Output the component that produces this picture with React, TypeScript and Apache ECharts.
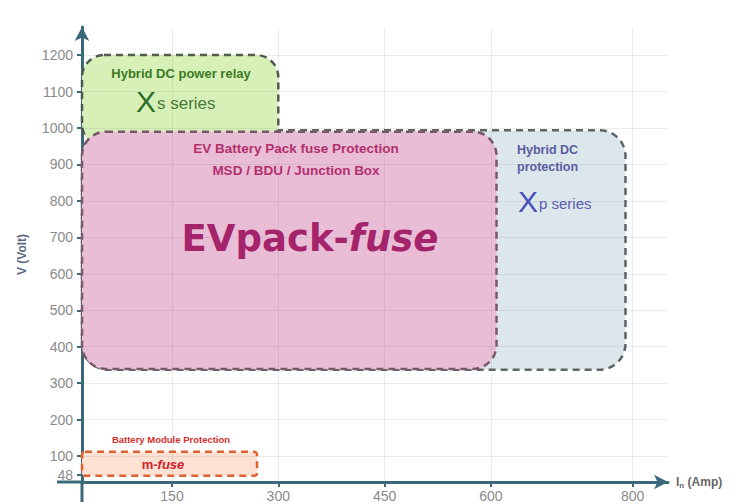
import React, { useEffect, useRef } from "react";
import * as echarts from "echarts";

// ---- data ----
const xTicks = [150, 300, 450, 600, 800];
const yTicks = [48, 100, 200, 300, 400, 500, 600, 700, 800, 900, 1000, 1100, 1200];
const gridX = [150, 300, 450, 600, 800];
const gridY = [100, 200, 300, 400, 500, 600, 700, 800, 900, 1000, 1100, 1200];

// application zones (Amp range, Volt range)
const zoneNames = ["Hybrid DC protection", "Hybrid DC power relay", "EV Battery Pack fuse Protection", "Battery Module Protection"];
const zoneAmpFrom = [23, 23, 23, 23];
const zoneAmpTo = [790, 300, 608, 270];
const zoneVoltFrom = [337, 950, 339, 46];
const zoneVoltTo = [994, 1200, 990, 112];

const X_MIN = 23;
const X_MAX = 850;
const Y_MIN = 29;
const Y_MAX = 1277;

// styles (kept apart from the data)
const zoneStyles = [
  { fill: "#dce7eb", stroke: "#5e6468", r: 26 },
  { fill: "#d6f0b8", stroke: "#4e5a4e", r: 22 },
  { fill: "#e9bdd5", stroke: "#7a5868", r: 24 },
  { fill: "#fde1d2", stroke: "#e0622e", r: 3 },
];

const FONT = "'Liberation Sans', Arial, sans-serif";
const AXIS_COLOR = "#3b6878";

export default function App() {
  const ref = useRef<HTMLDivElement>(null);
  useEffect(() => {
    if (!ref.current) return;
    const chart = echarts.init(ref.current, undefined, { renderer: "svg" });
    const zoneData = zoneNames.map((n, i) => [zoneAmpFrom[i], zoneAmpTo[i], zoneVoltFrom[i], zoneVoltTo[i], i]);

    const option: any = {
      animation: false,
      backgroundColor: "#ffffff",
      grid: { left: 82, top: 27, right: 79, bottom: 22, containLabel: false, outerBoundsMode: "none" },
      xAxis: {
        type: "value",
        min: X_MIN,
        max: X_MAX,
        name: "{i|I}{n|n}{t| (Amp)}",
        nameLocation: "end",
        nameGap: 8,
        nameTextStyle: {
          rich: {
            i: { fontFamily: FONT, fontSize: 12, fontWeight: "bold", color: "#666" },
            n: { fontFamily: FONT, fontSize: 8, fontWeight: "bold", color: "#666", padding: [6, 0, 0, 0] },
            t: { fontFamily: FONT, fontSize: 12, fontWeight: "bold", color: "#666" },
          },
        },
        axisLine: { show: true, lineStyle: { color: AXIS_COLOR, width: 3 }, symbol: ["none", "arrow"], symbolSize: [11, 14] },
        axisTick: { show: true, length: 5, lineStyle: { color: AXIS_COLOR, width: 2 }, customValues: xTicks },
        axisLabel: { color: "#8a8a8a", fontSize: 14, fontFamily: FONT, margin: 7, customValues: xTicks, formatter: (v: number) => String(v) },
        splitLine: { show: false },
      },
      yAxis: {
        type: "value",
        min: Y_MIN,
        max: Y_MAX,
        name: "V (Volt)",
        nameLocation: "middle",
        nameGap: 54,
        nameTextStyle: { color: "#5b6b86", fontSize: 12, fontWeight: "bold", fontFamily: FONT },
        axisLine: { show: true, lineStyle: { color: AXIS_COLOR, width: 3 }, symbol: ["none", "arrow"], symbolSize: [11, 14] },
        axisTick: { show: true, length: 5, lineStyle: { color: AXIS_COLOR, width: 2 }, customValues: yTicks },
        axisLabel: { color: "#8a8a8a", fontSize: 14, fontFamily: FONT, margin: 9, customValues: yTicks, formatter: (v: number) => String(v) },
        splitLine: { show: false },
      },
      series: [
        {
          type: "custom",
          name: "zones",
          z: 2,
          silent: true,
          clip: false,
          encode: { x: [0, 1], y: [2, 3] },
          data: zoneData,
          renderItem: (params: any, api: any) => {
            const i = api.value(4);
            const p0 = api.coord([api.value(0), api.value(3)]);
            const p1 = api.coord([api.value(1), api.value(2)]);
            const s = zoneStyles[i];
            return {
              type: "rect",
              shape: { x: p0[0], y: p0[1], width: p1[0] - p0[0], height: p1[1] - p0[1], r: s.r },
              style: { fill: s.fill, stroke: s.stroke, lineWidth: 2.5, lineDash: [7, 5] },
            };
          },
        },
        {
          type: "line",
          name: "grid",
          data: [],
          z: 4,
          silent: true,
          markLine: {
            silent: true,
            symbol: "none",
            label: { show: false },
            lineStyle: { color: "rgba(110,110,110,0.13)", type: "solid", width: 1 },
            data: [...gridX.map((v) => ({ xAxis: v })), ...gridY.map((v) => ({ yAxis: v }))],
          },
        },
      ],
      graphic: [
        // axis extensions beyond the origin
        { type: "line", z: 20, shape: { x1: 57, y1: 482, x2: 82, y2: 482 }, style: { stroke: AXIS_COLOR, lineWidth: 3 } },
        { type: "line", z: 20, shape: { x1: 82, y1: 482, x2: 82, y2: 502 }, style: { stroke: AXIS_COLOR, lineWidth: 3 } },
        // green zone
        { type: "text", z: 20, x: 181, y: 73, style: { text: "Hybrid DC power relay", fill: "#3d7a22", font: `bold 13px ${FONT}`, align: "center", verticalAlign: "middle" } },
        {
          type: "text", z: 20, x: 136, y: 101,
          style: {
            text: "{x|X}{s|s series}", align: "left", verticalAlign: "middle",
            rich: {
              x: { fontFamily: FONT, fontSize: 30, fill: "#2f6e2a", fontWeight: "normal" },
              s: { fontFamily: FONT, fontSize: 17, fill: "#4a7a3c", padding: [4, 0, 0, 1] },
            },
          },
        },
        // pink zone
        { type: "text", z: 20, x: 296, y: 148, style: { text: "EV Battery Pack fuse Protection", fill: "#b3306f", font: `bold 13.5px ${FONT}`, align: "center", verticalAlign: "middle" } },
        { type: "text", z: 20, x: 296, y: 170, style: { text: "MSD / BDU / Junction Box", fill: "#b3306f", font: `bold 13.5px ${FONT}`, align: "center", verticalAlign: "middle" } },
        {
          type: "text", z: 20, x: 310, y: 238,
          style: {
            text: "{a|EVpack-}{b|fuse}", align: "center", verticalAlign: "middle",
            rich: {
              a: { fontFamily: "'DejaVu Sans', sans-serif", fontSize: 37, fontWeight: "bold", fill: "#a5236a" },
              b: { fontFamily: "'DejaVu Sans', sans-serif", fontSize: 37, fontWeight: "bold", fontStyle: "italic", fill: "#a5236a" },
            },
          },
        },
        // blue zone
        { type: "text", z: 20, x: 517, y: 150, style: { text: "Hybrid DC", fill: "#5b5ca2", font: `bold 12.5px ${FONT}`, align: "left", verticalAlign: "middle" } },
        { type: "text", z: 20, x: 517, y: 167, style: { text: "protection", fill: "#5b5ca2", font: `bold 12.5px ${FONT}`, align: "left", verticalAlign: "middle" } },
        {
          type: "text", z: 20, x: 518, y: 201,
          style: {
            text: "{x|X}{s|p series}", align: "left", verticalAlign: "middle",
            rich: {
              x: { fontFamily: FONT, fontSize: 30, fill: "#4a4fbe", fontWeight: "normal" },
              s: { fontFamily: FONT, fontSize: 15, fill: "#5a5cb2", padding: [4, 0, 0, 1] },
            },
          },
        },
        // orange zone
        { type: "text", z: 20, x: 171, y: 439, style: { text: "Battery Module Protection", fill: "#d23030", font: `bold 9.5px ${FONT}`, align: "center", verticalAlign: "middle" } },
        {
          type: "text", z: 20, x: 163, y: 464,
          style: {
            text: "{a|m-}{b|fuse}", align: "center", verticalAlign: "middle",
            rich: {
              a: { fontFamily: FONT, fontSize: 13, fontWeight: "bold", fill: "#d2202a" },
              b: { fontFamily: FONT, fontSize: 13, fontWeight: "bold", fontStyle: "italic", fill: "#d2202a" },
            },
          },
        },
      ],
    };
    chart.setOption(option);
    return () => chart.dispose();
  }, []);
  return <div ref={ref} style={{ position: "fixed", left: 0, top: 0, width: 747, height: 504 }} />;
}
